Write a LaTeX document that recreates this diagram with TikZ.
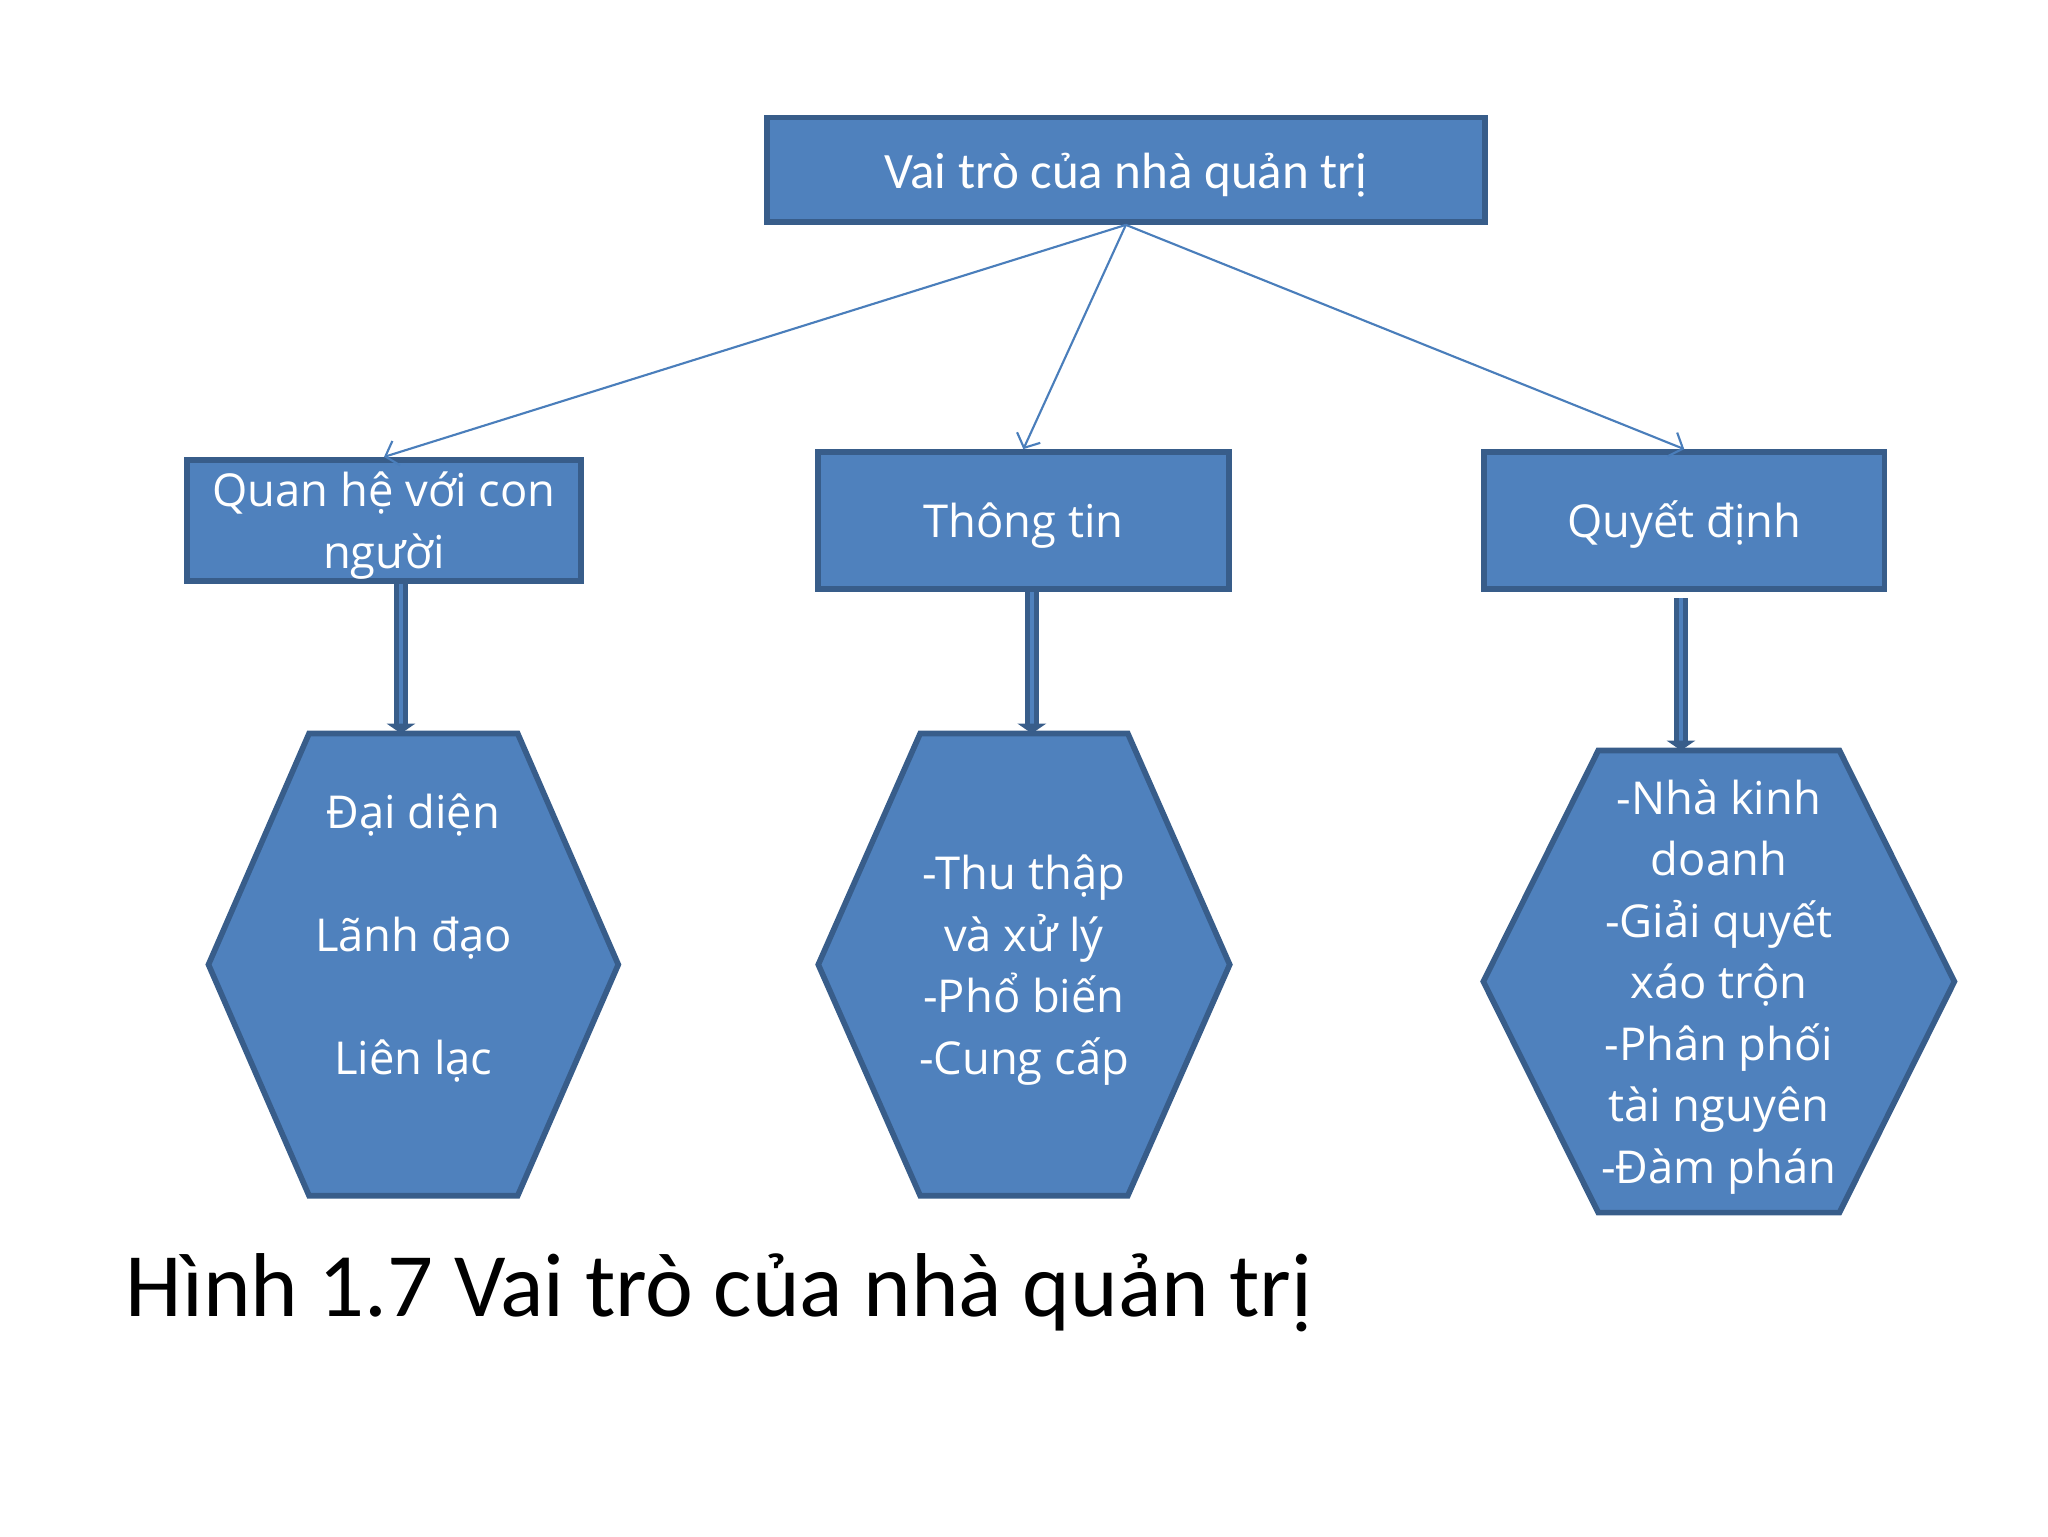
\documentclass[tikz,border=0pt]{standalone}
\usepackage{fontspec}
\setmainfont{Open Sans}
\newfontfamily\calibri{Carlito}
\usetikzlibrary{arrows.meta, calc, backgrounds}
\definecolor{boxfill}{HTML}{4F81BD}
\definecolor{boxline}{HTML}{385D8A}
\definecolor{arrline}{HTML}{4A7EBB}
\newcommand\padtop{\rule{0pt}{16pt}}

\begin{document}
\begin{tikzpicture}[
            x = 0.0162cm, y = -0.0162cm,
            every node/.style = {text=white, align = center, inner sep = 0pt},
            rolebox/.style = {rectangle, draw=boxline, line width=2pt, fill=boxfill,
                              font=\fontsize{16}{21.7}\selectfont},
            hexbox/.style = {rectangle, minimum height=5.72cm,
                             font=\fontsize{16}{21.7}\selectfont},
            hexline/.style = {draw=boxline, line width=2pt, fill=boxfill},
            thinarr/.style = {draw=arrline, line width=0.75pt,
                              -{Straight Barb[length=4pt, width=9pt]}},
            thickarr/.style = {draw=boxline, line width=1.65pt, double=boxfill,
                               double distance=1.5pt, -{Triangle[width=10pt, length=3.5pt]}}
                               ]
            \useasboundingbox (0,0) rectangle (1568,1176);
            \node[rolebox, minimum width=8.91cm, minimum height=1.296cm,
                  font=\calibri\fontsize{18}{22}\selectfont] (VAITRO) at (862,130) {\padtop Vai trò của nhà quản trị};
            \node[rolebox, minimum width=4.89cm, minimum height=1.507cm] (QUANHE) at (294,398.5) {\padtop Quan hệ với con\\người};
            \node[rolebox, minimum width=5.10cm, minimum height=1.70cm] (THONGTIN) at (783.5,398.5) {\padtop Thông tin};
            \node[rolebox, minimum width=4.97cm, minimum height=1.70cm] (QUYETDINH) at (1289.5,398.5) {\padtop Quyết định};
            %
            \node[hexbox, minimum width=5.07cm] (NHOM1) at (316.5,738.5) {Đại diện\\[21.7pt]Lãnh đạo\\[21.7pt]Liên lạc\\ \mbox{}};
            \node[hexbox, minimum width=5.09cm] (NHOM2) at (784,738.5) {\padtop -Thu thập\\và xử lý\\-Phổ biến\\-Cung cấp};
            \node[hexbox, minimum width=5.83cm] (NHOM3) at (1316,751.5) {\padtop -Nhà kinh\\doanh\\-Giải quyết\\xáo trộn\\-Phân phối\\tài nguyên\\-Đàm phán};
            \begin{scope}[on background layer]
                \foreach \n/\c in {NHOM1/77, NHOM2/78, NHOM3/88}
                    \draw[hexline] ($(\n.north west)+(\c,0)$) -- ($(\n.north east)+(-\c,0)$) -- (\n.east)
                                   -- ($(\n.south east)+(-\c,0)$) -- ($(\n.south west)+(\c,0)$) -- (\n.west) -- cycle;
            \end{scope}
            %
            \node[text=black, font=\calibri\fontsize{32}{38}\selectfont, anchor=base west] (HINH) at (96,1008) {Hình 1.7 Vai trò của nhà quản trị};
            %
            \foreach \t in {QUANHE, THONGTIN, QUYETDINH}
                \draw[thinarr] (VAITRO.south) -- (\t.north);
            \draw[thickarr] ($(QUANHE.south)+(13,0)$) -- ($(NHOM1.north)+(-9.5,0)$);
            \draw[thickarr] ($(THONGTIN.south)+(6.5,0)$) -- ($(NHOM2.north)+(6,0)$);
            \draw[thickarr] ($(QUYETDINH.south)+(-2.5,5)$) -- ($(NHOM3.north)+(-29,0)$);
    \end{tikzpicture}
\end{document}
